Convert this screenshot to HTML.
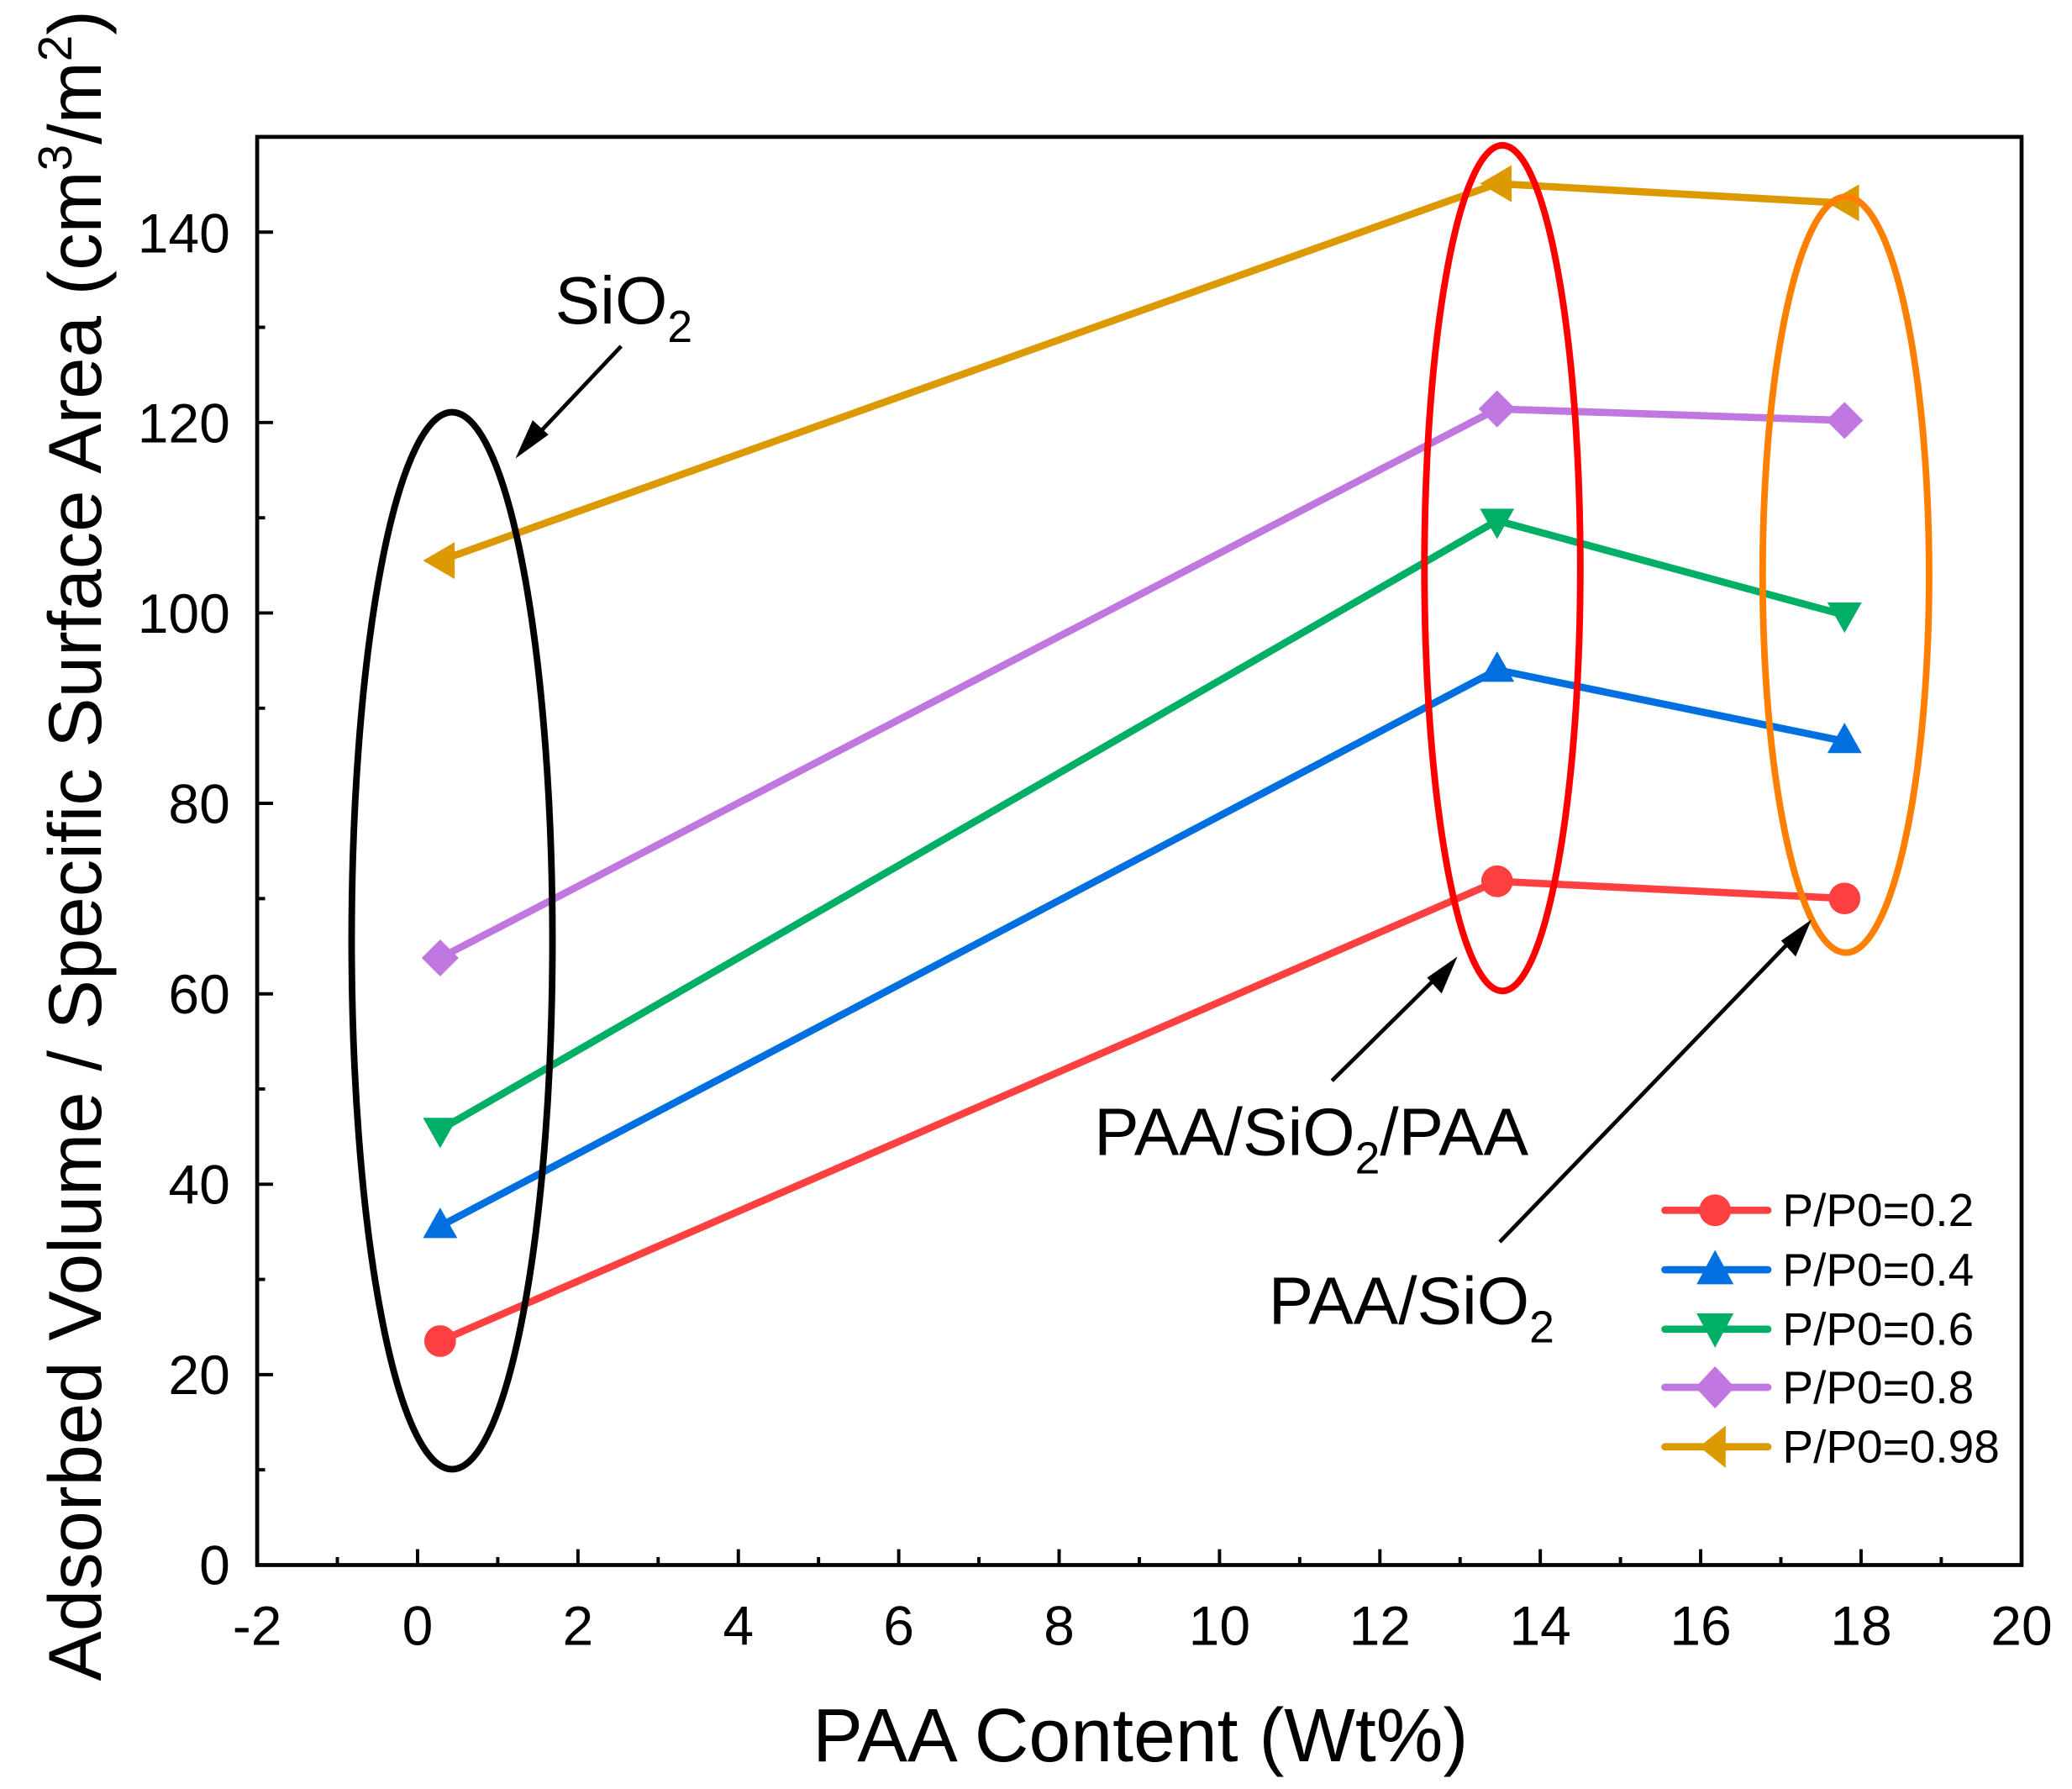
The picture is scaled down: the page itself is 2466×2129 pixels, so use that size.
<!DOCTYPE html>
<html><head><meta charset="utf-8"><style>html,body{margin:0;padding:0;background:#fff}svg{display:block}</style></head>
<body>
<svg width="2466" height="2129" viewBox="0 0 1568 1354" xmlns="http://www.w3.org/2000/svg" font-family="Liberation Sans, Arial, sans-serif">
<rect width="1568" height="1354" fill="#fff"/>
<g stroke="#000" stroke-width="2.5">
<path d="M194.5,1184.5v-12M255.2,1184.5v-6M315.9,1184.5v-12M376.6,1184.5v-6M437.3,1184.5v-12M498,1184.5v-6M558.7,1184.5v-12M619.4,1184.5v-6M680.1,1184.5v-12M740.8,1184.5v-6M801.5,1184.5v-12M862.2,1184.5v-6M922.9,1184.5v-12M983.6,1184.5v-6M1044.3,1184.5v-12M1105,1184.5v-6M1165.7,1184.5v-12M1226.4,1184.5v-6M1287.1,1184.5v-12M1347.8,1184.5v-6M1408.5,1184.5v-12M1469.2,1184.5v-6"/>
<path d="M194.5,1184.5h12M194.5,1112.4h6M194.5,1040.4h12M194.5,968.3h6M194.5,896.3h12M194.5,824.2h6M194.5,752.2h12M194.5,680.1h6M194.5,608h12M194.5,536h6M194.5,463.9h12M194.5,391.9h6M194.5,319.8h12M194.5,247.7h6M194.5,175.7h12"/>
</g>
<rect x="194.5" y="103.6" width="1335.5" height="1080.9" fill="none" stroke="#000" stroke-width="3"/>
<g font-size="42" text-anchor="end" fill="#000">
<text x="174" y="1199">0</text><text x="174" y="1055">20</text><text x="174" y="911">40</text><text x="174" y="767">60</text><text x="174" y="623">80</text><text x="174" y="479">100</text><text x="174" y="335">120</text><text x="174" y="191">140</text>
</g>
<g font-size="42" text-anchor="middle" fill="#000">
<text x="194.5" y="1245">-2</text><text x="315.9" y="1245">0</text><text x="437.3" y="1245">2</text><text x="558.7" y="1245">4</text><text x="680.1" y="1245">6</text><text x="801.5" y="1245">8</text><text x="922.9" y="1245">10</text><text x="1044.3" y="1245">12</text><text x="1165.7" y="1245">14</text><text x="1287.1" y="1245">16</text><text x="1408.5" y="1245">18</text><text x="1530" y="1245">20</text>
</g>
<text x="863" y="1333" font-size="57" text-anchor="middle">PAA Content (Wt%)</text>
<text transform="translate(76,640) rotate(-90)" font-size="56.5" text-anchor="middle">Adsorbed Volume / Specific Surface Area (cm<tspan dy="-22" font-size="36">3</tspan><tspan dy="22">/m</tspan><tspan dy="-22" font-size="36">2</tspan><tspan dy="22">)</tspan></text>
<g fill="none" stroke-width="5.5" stroke-linejoin="round">
<polyline stroke="#dd9900" points="333,424.3 1133,139 1391,153.5"/>
<polyline stroke="#c077e0" points="333,725 1133,309.5 1396,318.2"/>
<polyline stroke="#00af66" points="333,855 1133,394 1396,465.5"/>
<polyline stroke="#0070e0" points="333,928 1133,507 1396,561"/>
<polyline stroke="#ff4040" points="333,1015 1133,667 1396,680"/>
</g>
<circle cx="333" cy="1015" r="12" fill="#ff4040"/><circle cx="1133" cy="667" r="12" fill="#ff4040"/><circle cx="1396" cy="680" r="12" fill="#ff4040"/>
<g fill="#0070e0"><path d="M333,914l13,23h-26z"/><path d="M1133,493l13,23h-26z"/><path d="M1396,547l13,23h-26z"/></g>
<g fill="#00af66"><path d="M333,869l13,-23h-26z"/><path d="M1133,408l13,-23h-26z"/><path d="M1396,479l13,-23h-26z"/></g>
<g fill="#c077e0"><path d="M333,711l14,14l-14,14l-14,-14z"/><path d="M1133,295.5l14,14l-14,14l-14,-14z"/><path d="M1396,304.2l14,14l-14,14l-14,-14z"/></g>
<g fill="#dd9900"><path d="M320,424.3l24,-14v28z"/><path d="M1120,139l24,-14v28z"/><path d="M1383,153.5l24,-14v28z"/></g>
<ellipse cx="342" cy="712" rx="76" ry="400" fill="none" stroke="#000" stroke-width="5"/>
<ellipse cx="1137" cy="430" rx="59" ry="320" fill="none" stroke="#ff0000" stroke-width="5"/>
<ellipse cx="1397" cy="435" rx="63" ry="286" fill="none" stroke="#ff8000" stroke-width="5"/>
<g stroke="#000" stroke-width="3"><line x1="470" y1="262" x2="402" y2="334"/><line x1="1008" y1="818" x2="1092" y2="735"/><line x1="1135" y1="940" x2="1360" y2="707"/></g>
<g fill="#000"><path d="M390,347l13,-29l12,11z"/><path d="M1103,724l-12,28l-11,-12z"/><path d="M1371,696l-12,28l-11,-12z"/></g>
<g font-size="51" fill="#000">
<text x="420" y="245">SiO<tspan dy="14" font-size="34">2</tspan></text>
<text x="828" y="874">PAA/SiO<tspan dy="14" font-size="34">2</tspan><tspan dy="-14">/PAA</tspan></text>
<text x="960" y="1002">PAA/SiO<tspan dy="14" font-size="34">2</tspan></text>
</g>
<g stroke-width="5.5" stroke-linecap="round">
<line x1="1260" y1="916" x2="1338" y2="916" stroke="#ff4040"/>
<line x1="1260" y1="961" x2="1338" y2="961" stroke="#0070e0"/>
<line x1="1260" y1="1006" x2="1338" y2="1006" stroke="#00af66"/>
<line x1="1260" y1="1050" x2="1338" y2="1050" stroke="#c077e0"/>
<line x1="1260" y1="1095" x2="1338" y2="1095" stroke="#dd9900"/>
</g>
<circle cx="1298" cy="916" r="12" fill="#ff4040"/>
<path d="M1298,946l14,26h-28z" fill="#0070e0"/>
<path d="M1298,1020l14,-26h-28z" fill="#00af66"/>
<path d="M1298,1034l15,16l-15,16l-15,-16z" fill="#c077e0"/>
<path d="M1286,1095l20,-16v32z" fill="#dd9900"/>
<g font-size="35" fill="#000">
<text x="1349" y="928">P/P0=0.2</text><text x="1349" y="973">P/P0=0.4</text><text x="1349" y="1018">P/P0=0.6</text><text x="1349" y="1062">P/P0=0.8</text><text x="1349" y="1107">P/P0=0.98</text>
</g>
</svg>
</body></html>
